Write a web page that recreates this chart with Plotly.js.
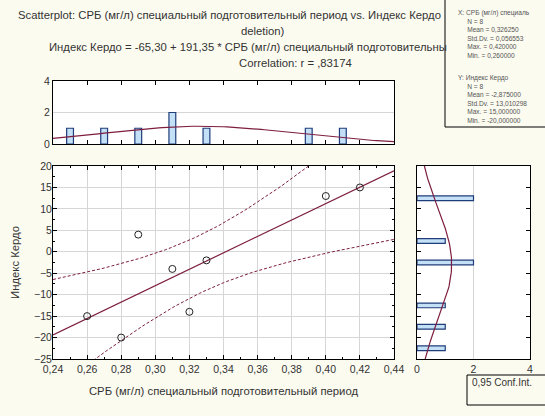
<!DOCTYPE html>
<html><head><meta charset="utf-8">
<script src="https://cdn.plot.ly/plotly-3.0.1.min.js"></script>
<style>html,body{margin:0;padding:0;background:#fcfbf0;}</style>
</head><body><div id="chart" style="width:545px;height:416px;"></div>
<script>
// ---- data ----
const xVals = [0.26, 0.28, 0.29, 0.31, 0.32, 0.33, 0.40, 0.42];
const yVals = [-15, -20, 4, -4, -14, -2, 13, 15];
const topBinCenters = [0.25, 0.27, 0.29, 0.31, 0.33, 0.39, 0.41];
const topBinCounts = [1, 1, 1, 2, 1, 1, 1];
const topBinWidth = 0.02;
const rightBinCenters = [12.5, 2.5, -2.5, -12.5, -17.5, -22.5];
const rightBinCounts = [2, 1, 2, 1, 1, 1];
const rightBinWidth = 5;
const xTitle = 'СРБ (мг/л) специальный подготовительный период';
const xTitleShort = 'СРБ (мг/л) специаль';
const xTitleEq = 'СРБ (мг/л) специальный подготовительны';
const yTitle = 'Индекс Кердо';
const tCrit = 2.4469; // t(0.975, df=6)

// ---- statistics ----
const n = xVals.length;
const mean = a => a.reduce((s, v) => s + v, 0) / a.length;
const mx = mean(xVals), my = mean(yVals);
let sxx = 0, syy = 0, sxy = 0;
for (let i = 0; i < n; i++) { sxx += (xVals[i]-mx)**2; syy += (yVals[i]-my)**2; sxy += (xVals[i]-mx)*(yVals[i]-my); }
const slope = sxy / sxx, icpt = my - slope * mx;
const r = sxy / Math.sqrt(sxx * syy);
const sdx = Math.sqrt(sxx/(n-1)), sdy = Math.sqrt(syy/(n-1));
const se = Math.sqrt((syy - slope*sxy)/(n-2));
const fmt = (v, d) => v.toFixed(d).replace('.', ',');

const xr = [0.24, 0.44], yr = [-25, 20];
const gx = [], fitY = [], upY = [], loY = [];
for (let k = 0; k <= 100; k++) {
  const x = xr[0] + (xr[1]-xr[0]) * k / 100;
  const f = icpt + slope * x;
  const h = tCrit * se * Math.sqrt(1/n + (x-mx)**2/sxx);
  gx.push(x); fitY.push(f); upY.push(f + h); loY.push(f - h);
}
const normPdf = (v, m, s) => Math.exp(-0.5*((v-m)/s)**2) / (s*Math.sqrt(2*Math.PI));
const topCurveY = gx.map(x => n * topBinWidth * normPdf(x, mx, sdx));
const gy = [], rightCurveX = [];
for (let k = 0; k <= 100; k++) {
  const y = yr[0] + (yr[1]-yr[0]) * k / 100;
  gy.push(y); rightCurveX.push(n * rightBinWidth * normPdf(y, my, sdy));
}

const red = '#7d1d3f';
const traces = [
  {x: gx, y: upY, mode: 'lines', line: {color: red, width: 1, dash: '3px,2px'}, xaxis: 'x', yaxis: 'y'},
  {x: gx, y: loY, mode: 'lines', line: {color: red, width: 1, dash: '3px,2px'}, xaxis: 'x', yaxis: 'y'},
  {x: gx, y: fitY, mode: 'lines', line: {color: red, width: 1.2}, xaxis: 'x', yaxis: 'y'},
  {x: xVals, y: yVals, mode: 'markers', marker: {symbol: 'circle-open', size: 7, color: '#222', line: {width: 1}}, xaxis: 'x', yaxis: 'y'},
  {type: 'bar', x: topBinCenters, y: topBinCounts, width: 0.004, marker: {color: '#c4e0f6', line: {color: '#1f3d7a', width: 1.2}}, xaxis: 'x2', yaxis: 'y2'},
  {x: gx, y: topCurveY, mode: 'lines', line: {color: red, width: 1.2}, xaxis: 'x2', yaxis: 'y2'},
  {type: 'bar', orientation: 'h', y: rightBinCenters, x: rightBinCounts, width: 1.1, marker: {color: '#c4e0f6', line: {color: '#1f3d7a', width: 1.2}}, xaxis: 'x3', yaxis: 'y3'},
  {x: rightCurveX, y: gy, mode: 'lines', line: {color: red, width: 1.2}, xaxis: 'x3', yaxis: 'y3'}
];

// plot area in pixels: left 53, right 530, top 81, bottom 359
const L = 53, R = 530, T = 81, B = 359;
const W = R - L, H = B - T;
const px = p => (p - L) / W;
const py = p => (B - p) / H;

const tickFont = {size: 10.5, color: '#333'};
const common = {showline: true, linecolor: '#000', linewidth: 1, zeroline: false, ticks: 'inside', ticklen: 4, tickcolor: '#000', mirror: 'ticks', tickfont: tickFont, fixedrange: true};

const layout = {
  width: 545, height: 416,
  margin: {l: L, r: 545 - R, t: T, b: 416 - B},
  paper_bgcolor: '#fcfbf0', plot_bgcolor: '#ffffff',
  showlegend: false, separators: ', ',
  font: {family: 'Liberation Sans, Arial, sans-serif', color: '#333', size: 11},
  bargap: 0,
  xaxis: Object.assign({}, common, {domain: [0, px(394)], range: xr, tick0: 0.24, dtick: 0.02, tickformat: '.2f', anchor: 'y',
    gridcolor: '#d6d6d6', minor: {ticks: 'inside', ticklen: 2, dtick: 0.01, tickcolor: '#000', showgrid: false},
    title: {text: xTitle, font: {size: 11.3, color: '#333'}, standoff: 13}}),
  yaxis: Object.assign({}, common, {domain: [0, py(166)], range: yr, dtick: 5, anchor: 'x', ticklabelstandoff: -2,
    gridcolor: '#d6d6d6', minor: {ticks: 'inside', ticklen: 2, dtick: 2.5, tickcolor: '#000', showgrid: false},
    title: {text: yTitle, font: {size: 11.3, color: '#333'}, standoff: 12}}),
  xaxis2: Object.assign({}, common, {domain: [0, px(394)], range: xr, tick0: 0.24, dtick: 0.02, anchor: 'y2', showticklabels: false, showgrid: false}),
  yaxis2: Object.assign({}, common, {domain: [py(144), 1], range: [0, 4], dtick: 2, anchor: 'x2', ticks: '', gridcolor: '#d6d6d6'}),
  xaxis3: Object.assign({}, common, {domain: [px(417), 1], range: [0, 4], dtick: 2, anchor: 'y3', ticks: '', gridcolor: '#d6d6d6'}),
  yaxis3: Object.assign({}, common, {domain: [0, py(166)], range: yr, dtick: 5, anchor: 'x3', showticklabels: false, showgrid: false}),
  shapes: [
    {type: 'rect', xref: 'paper', yref: 'paper', x0: px(445), x1: px(548), y0: py(127), y1: py(-3), line: {color: '#000', width: 1}, fillcolor: '#fcfbf0'},
    {type: 'rect', xref: 'paper', yref: 'paper', x0: px(467), x1: px(548), y0: py(405), y1: py(375), line: {color: '#000', width: 1}, fillcolor: 'rgba(0,0,0,0)'}
  ],
  annotations: []
};

const ann = (text, x, y, opts) => Object.assign({text: text, xref: 'paper', yref: 'paper', x: px(x), y: py(y), showarrow: false,
  xanchor: 'left', yanchor: 'middle', font: {size: 11.3, color: '#333'}}, opts || {});

layout.annotations.push(ann('Scatterplot: ' + xTitle + ' vs. ' + yTitle, 16, 15));
layout.annotations.push(ann('deletion)', 263, 31, {xanchor: 'center'}));
layout.annotations.push(ann(yTitle + ' = ' + fmt(icpt, 2) + ' + ' + fmt(slope, 2) + ' * ' + xTitleEq, 47, 47));
layout.annotations.push(ann('Correlation: r = ' + fmt(r, 5).replace(/^0/, ''), 295, 63, {xanchor: 'center'}));
// statistics box
const ind = '&nbsp;&nbsp;&nbsp;&nbsp;&nbsp;';
const statX = ['X: ' + xTitleShort, ind + 'N = ' + n, ind + 'Mean = ' + fmt(mx, 6), ind + 'Std.Dv. = ' + fmt(sdx, 6),
  ind + 'Max. = ' + fmt(Math.max(...xVals), 6), ind + 'Min. = ' + fmt(Math.min(...xVals), 6)];
const statY = ['Y: ' + yTitle, ind + 'N = ' + n, ind + 'Mean = ' + fmt(my, 6), ind + 'Std.Dv. = ' + fmt(sdy, 6),
  ind + 'Max. = ' + fmt(Math.max(...yVals), 6), ind + 'Min. = ' + fmt(Math.min(...yVals), 6)];
layout.annotations.push(ann(statX.join('<br>'), 456, 7, {yanchor: 'top', align: 'left', font: {size: 6.6, color: '#555'}}));
layout.annotations.push(ann(statY.join('<br>'), 456, 72, {yanchor: 'top', align: 'left', font: {size: 6.6, color: '#555'}}));
layout.annotations.push(ann('0,95 Conf.Int.', 470, 382, {font: {size: 10, color: '#333'}}));

Plotly.newPlot('chart', traces, layout, {displayModeBar: false, staticPlot: true});
</script></body></html>
